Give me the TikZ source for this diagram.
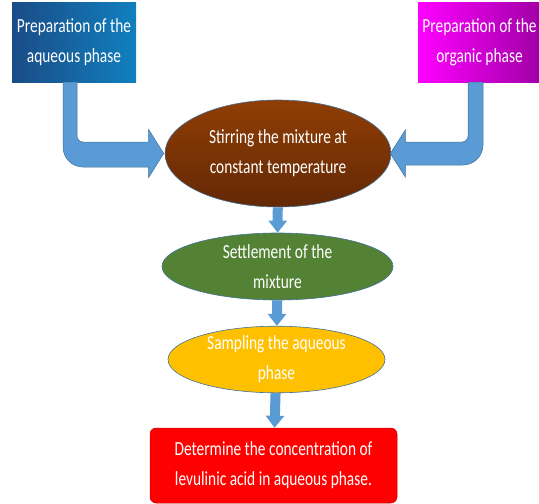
\documentclass[tikz,border=0pt]{standalone}
\usepackage{fontspec}
\newfontfamily\boxfont[FakeStretch=0.77]{Carlito}
\usepackage{tikz}
\usetikzlibrary{arrows.meta,shapes.geometric,calc}
\definecolor{AquaBlue}{HTML}{1560AE}
\definecolor{AquaDark}{HTML}{1A4C86}
\definecolor{OrgMagenta}{HTML}{FF00FF}
\definecolor{OrgPurple}{HTML}{A000A6}
\definecolor{StirBrown}{HTML}{7C3206}
\definecolor{SettleGreen}{HTML}{548235}
\definecolor{SampleAmber}{HTML}{FFC000}
\definecolor{DetRed}{HTML}{FF0000}
\definecolor{FlowBlue}{HTML}{5B9BD5}
\definecolor{FlowEdge}{HTML}{41719C}

\begin{document}
\begin{tikzpicture}[
  x=1pt, y=-1pt,
  txt/.style={font=\boxfont\fontsize{20}{30}\selectfont, text=white, align=center, inner sep=0pt},
  prepbox/.style={txt, rectangle, minimum width=124pt, minimum height=80pt},
  stepoval/.style={txt, ellipse, draw=FlowEdge, line width=0.6pt},
  blockarrow/.style={fill=FlowBlue, draw=FlowEdge, line width=0.5pt},
  downarrow/.style={draw=FlowBlue, line width=10pt, -{Triangle[length=12pt,width=18pt]}}
]
\useasboundingbox (0,0) rectangle (539,504);
\node[prepbox, left color=AquaDark, right color=AquaBlue!80!cyan] (aq) at (74,42) {Preparation of the\\aqueous phase};
\node[prepbox, minimum width=123pt, left color=OrgMagenta, right color=OrgPurple] (org) at (479.5,42) {Preparation of the\\organic phase};
\node[stepoval, top color=StirBrown!85!orange, bottom color=StirBrown!80!black, minimum width=226pt, minimum height=107pt] (stir) at (278,153.5) {Stirring the mixture at\\constant temperature};
\node[stepoval, fill=SettleGreen, minimum width=231pt, minimum height=67pt] (settle) at (277.5,266.5) {Settlement of the\\mixture};
\node[stepoval, fill=SampleAmber, minimum width=217pt, minimum height=65pt] (sample) at (276.5,359.5) {Sampling the aqueous\\phase};
\node[txt, rectangle, rounded corners=6pt, fill=DetRed, draw=DetRed!80!black, line width=0.5pt,
      minimum width=247pt, minimum height=75pt] (det) at (273.5,465.5) {Determine the concentration of\\levulinic acid in aqueous phase.};
% bent arrows into the stirring step
\coordinate (aqL) at ($(aq.south)+(-11,0)$);
\coordinate (aqR) at ($(aq.south)+(3,0)$);
\coordinate (lbot) at ($(stir.west)+(-16,13.5)$);
\coordinate (ltop) at ($(stir.west)+(-16,-11.5)$);
\filldraw[blockarrow] (aqL) [rounded corners=20pt] -- (aqL |- lbot) [sharp corners] -- (lbot) -- ++(0,10.5)
  -- ($(stir.west)+(-1,0)$) -- ($(stir.west)+(-16,-24)$) -- (ltop) [rounded corners=6pt] -- (aqR |- ltop) [sharp corners] -- (aqR) -- cycle;
\coordinate (orgR) at ($(org.south)+(3.5,0)$);
\coordinate (orgL) at ($(org.south)+(-11.5,0)$);
\coordinate (rbot) at ($(stir.east)+(14,11.5)$);
\coordinate (rtop) at ($(stir.east)+(14,-11.5)$);
\filldraw[blockarrow] (orgR) [rounded corners=20pt] -- (orgR |- rbot) [sharp corners] -- (rbot) -- ++(0,12)
  -- ($(stir.east)+(-1,0)$) -- ($(stir.east)+(14,-23.5)$) -- (rtop) [rounded corners=6pt] -- (orgL |- rtop) [sharp corners] -- (orgL) -- cycle;
\draw[downarrow] (stir) -- (settle);
\draw[downarrow] (settle) -- (sample);
\draw[downarrow] (sample) -- (det);
\end{tikzpicture}
\end{document}
